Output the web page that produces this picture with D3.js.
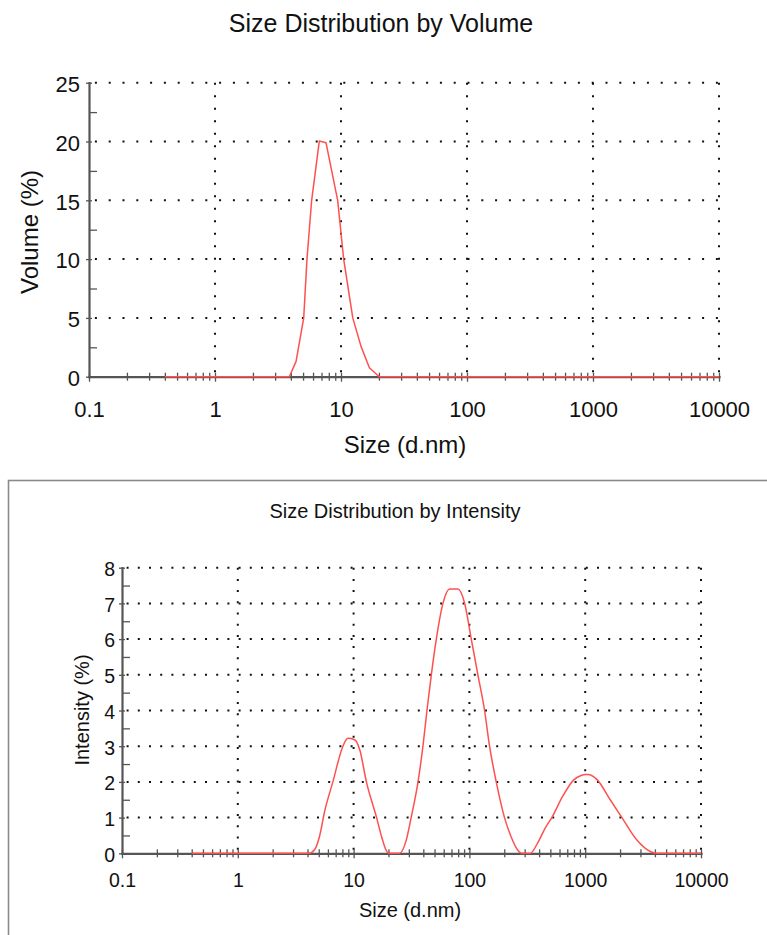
<!DOCTYPE html>
<html>
<head>
<meta charset="utf-8">
<script src="https://cdn.jsdelivr.net/npm/d3@7"></script>
<style>
  body { margin: 0; background: #fff; }
  text { font-family: "Liberation Sans", Arial, sans-serif; fill: #111; }
</style>
</head>
<body>
<div id="myPlot"></div>
<script>
// size axis (d.nm), shared by both plots
const sizeTicks = [0.1, 1, 10, 100, 1000, 10000]

// volume distribution
const volSizes = [0.4, 3.89, 4.4, 5.06, 5.37, 5.85, 6.73, 7.6, 9.41, 10.5, 12.4, 14.4, 16.8, 20.1, 10000]
const volPercent = [0, 0, 1.3, 5, 10, 15, 20.05, 19.9, 15, 10, 5, 2.6, 0.76, 0, 0]
const volTicks = [0, 5, 10, 15, 20, 25]

// intensity distribution
const intSizes = [0.4, 4.1, 4.6, 5.1, 5.6, 6.62, 8.09, 8.93, 10.2, 11.3, 12.9, 15.8, 17.5, 19, 20.2, 24.9,
    28.5, 31.4, 36, 39.7, 43, 46.9, 51.8, 59.1, 67.5, 79.6, 91, 103.8, 118.4, 135.2, 149.3, 170.5,
    201, 230, 260, 284, 335, 390, 450, 515, 640, 793, 920, 1000, 1065, 1180, 1278, 1644, 2075, 2795,
    3640, 4156, 10000]
const intPercent = [0, 0, 0.1, 0.5, 1.15, 2, 3, 3.22, 3.18, 2.9, 2, 1, 0.45, 0.1, 0, 0,
    0.37, 1, 2, 3, 4, 5, 6, 7, 7.4, 7.4, 7, 6, 5, 4, 3, 2,
    1, 0.45, 0.1, 0, 0, 0.3, 0.7, 1, 1.6, 2.05, 2.18, 2.21, 2.21, 2.15, 2.05, 1.5, 1, 0.37,
    0.05, 0, 0]
const intTicks = [0, 1, 2, 3, 4, 5, 6, 7, 8]

const svg = d3.select("#myPlot").append("svg")
    .attr("width", 767)
    .attr("height", 935)

// frame round the lower plot
svg.append("rect")
    .attr("x", 8.5)
    .attr("y", 480.5)
    .attr("width", 800)
    .attr("height", 500)
    .attr("fill", "none")
    .attr("stroke", "#8a8a8a")
    .attr("stroke-width", 1.6)

drawSizePlot(svg, {
    title: "Size Distribution by Volume",
    yLabel: "Volume (%)",
    sizes: volSizes,
    values: volPercent,
    yTicks: volTicks,
    xRange: [89, 719],
    yRange: [376.7, 82.7],
    tickFont: 22,
    labelFont: 24,
    titleFont: 25,
    titlePos: [381, 31.5],
    xLabelPos: [405, 453],
    yLabelPos: [38, 232],
    xTickY: 40,
    yTickX: -9,
    dash: [2, 11.8],
    dashV: [2, 10.5],
    curve: d3.curveLinear
})

drawSizePlot(svg, {
    title: "Size Distribution by Intensity",
    yLabel: "Intensity (%)",
    sizes: intSizes,
    values: intPercent,
    yTicks: intTicks,
    xRange: [122, 701],
    yRange: [853.3, 567.7],
    tickFont: 19.5,
    labelFont: 20,
    titleFont: 20,
    titlePos: [395, 518],
    xLabelPos: [410, 916.5],
    yLabelPos: [89, 710],
    xTickY: 33.5,
    yTickX: -7,
    dash: [2, 9.2],
    dashV: [2, 9.2],
    curve: d3.curveMonotoneX
})

function drawSizePlot(svg, cfg) {
    const yMax = cfg.yTicks[cfg.yTicks.length - 1]
    const x = d3.scaleLog().domain([sizeTicks[0], sizeTicks[sizeTicks.length - 1]]).range(cfg.xRange)
    const y = d3.scaleLinear().domain([0, yMax]).range(cfg.yRange)

    const minorX = sizeTicks.slice(0, -1).flatMap(d => d3.range(2, 10).map(k => k * d))
    const minorY = cfg.yTicks.slice(1).map((d, i) => (d + cfg.yTicks[i]) / 2)

    const g = svg.append("g")

    // dotted grid
    g.append("g").selectAll("line")
        .data(cfg.yTicks.slice(1))
        .join("line")
        .attr("x1", x.range()[0])
        .attr("x2", x.range()[1])
        .attr("y1", d => y(d))
        .attr("y2", d => y(d))
        .attr("stroke", "#111")
        .attr("stroke-width", 2)
        .attr("stroke-dasharray", cfg.dash.join(","))
        .attr("stroke-dashoffset", -cfg.dash[1] / 2)

    g.append("g").selectAll("line")
        .data(sizeTicks.slice(1))
        .join("line")
        .attr("x1", d => x(d))
        .attr("x2", d => x(d))
        .attr("y1", y(yMax))
        .attr("y2", y(0))
        .attr("stroke", "#111")
        .attr("stroke-width", 2)
        .attr("stroke-dasharray", cfg.dashV.join(","))

    // axes
    const xAxis = d3.axisBottom(x)
        .tickValues(sizeTicks)
        .tickFormat(d3.format("~g"))
        .tickSizeInner(5)
        .tickSizeOuter(0)

    const xAxisG = g.append("g")
        .attr("transform", `translate(0, ${y(0)})`)
        .call(xAxis)

    xAxisG.append("g")
        .call(d3.axisBottom(x).tickValues(minorX).tickFormat("").tickSizeInner(4).tickSizeOuter(0))
        .call(a => a.select(".domain").remove())

    xAxisG.selectAll(".tick line").attr("y1", -4).attr("stroke", "#555").attr("stroke-width", 1.3)
    xAxisG.selectAll(".domain").attr("stroke", "#555").attr("stroke-width", 2.2)
    xAxisG.selectAll(".tick text")
        .attr("y", cfg.xTickY)
        .attr("dy", 0)
        .attr("font-size", cfg.tickFont)
        .attr("fill", "#111")

    const yAxisG = g.append("g")
        .attr("transform", `translate(${x.range()[0]}, 0)`)
        .call(d3.axisLeft(y).tickValues(cfg.yTicks).tickSizeInner(3).tickSizeOuter(0))

    yAxisG.append("g")
        .call(d3.axisLeft(y).tickValues(minorY).tickFormat("").tickSizeInner(3).tickSizeOuter(0))
        .call(a => a.select(".domain").remove())
        .selectAll(".tick line").attr("x2", 8)

    yAxisG.selectAll(".tick line").attr("stroke", "#555").attr("stroke-width", 1.3)
    yAxisG.selectAll(".tick").filter(d => cfg.yTicks.includes(d)).select("line").attr("x1", 3)
    yAxisG.selectAll(".domain").attr("stroke", "#555").attr("stroke-width", 2.2)
    yAxisG.selectAll(".tick text")
        .attr("x", cfg.yTickX)
        .attr("dy", "0.4em")
        .attr("font-size", cfg.tickFont)
        .attr("fill", "#111")

    g.selectAll(".domain").attr("stroke-linecap", "square")

    // distribution curve
    const line = d3.line()
        .x(d => x(d[0]))
        .y(d => y(d[1]))
        .curve(cfg.curve)

    g.append("path")
        .datum(d3.zip(cfg.sizes, cfg.values))
        .attr("d", line)
        .attr("fill", "none")
        .attr("stroke", "#ff5050")
        .attr("stroke-width", 1.5)
        .attr("stroke-linejoin", "round")

    // titles
    g.append("text")
        .attr("x", cfg.titlePos[0])
        .attr("y", cfg.titlePos[1])
        .attr("text-anchor", "middle")
        .attr("font-size", cfg.titleFont)
        .text(cfg.title)

    g.append("text")
        .attr("x", cfg.xLabelPos[0])
        .attr("y", cfg.xLabelPos[1])
        .attr("text-anchor", "middle")
        .attr("font-size", cfg.labelFont)
        .text("Size (d.nm)")

    g.append("text")
        .attr("transform", `translate(${cfg.yLabelPos[0]}, ${cfg.yLabelPos[1]}) rotate(-90)`)
        .attr("text-anchor", "middle")
        .attr("font-size", cfg.labelFont)
        .text(cfg.yLabel)
}
</script>
</body>
</html>
